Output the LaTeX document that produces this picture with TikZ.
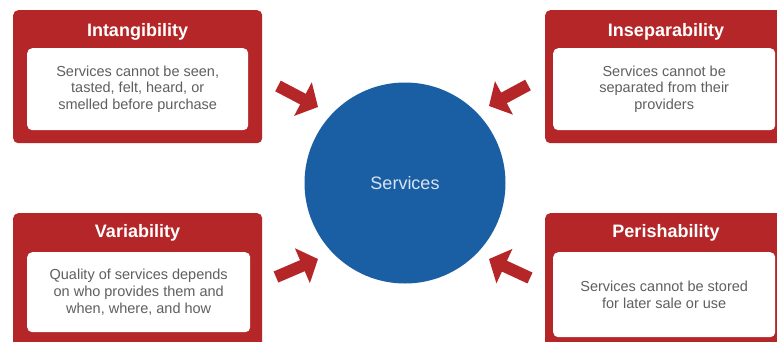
\documentclass[tikz,border=0pt]{standalone}
\usepackage{fontspec}
\setmainfont{Liberation Sans}
\usetikzlibrary{arrows.meta}
\usepackage{xcolor}
\definecolor{boxred}{RGB}{180,38,40}
\definecolor{svcblue}{RGB}{26,94,163}
\definecolor{svctext}{RGB}{215,228,243}
\definecolor{bodygray}{RGB}{95,95,95}

\begin{document}
\begin{tikzpicture}[
        x=1pt, y=-1pt,
        outerbox/.style={fill=boxred, rounded corners=5pt, inner sep=0pt, anchor=north west},
        innerbox/.style={fill=white, rounded corners=5pt, inner sep=0pt, anchor=north west,
            align=center, text=bodygray, font=\fontsize{14.5}{16.6}\selectfont},
        titletext/.style={text=white, font=\fontsize{18}{20}\selectfont\bfseries},
        bigarrow/.style={boxred, line width=12pt, -{Triangle[width=37pt, length=17pt]}}
    ]

    % Rahmen
    \useasboundingbox (0,0) rectangle (777,341);
    \fill[white] (0,0) rectangle (777,341);

    % Kreis in der Mitte
    \node[circle, fill=svcblue, minimum size=201pt, inner sep=0pt,
          text=svctext, font=\fontsize{18}{20}\selectfont] (svc) at (405,183) {Services};

    % Oben links
    \node[outerbox, minimum width=249pt, minimum height=133pt] (intbox) at (13,10) {};
    \node[innerbox, minimum width=221pt, minimum height=82pt] (intbody) at (27,48)
        {Services cannot be seen,\\ tasted, felt, heard, or\\ smelled before purchase};
    \node[titletext] (inttitle) at (137.5,32) {Intangibility};

    % Oben rechts
    \node[outerbox, minimum width=240pt, minimum height=133pt] (insbox) at (545,10) {};
    \node[innerbox, minimum width=222pt, minimum height=82pt] (insbody) at (553,48)
        {Services cannot be\\ separated from their\\ providers};
    \node[titletext] (institle) at (666,32) {Inseparability};

    % Unten links
    \node[outerbox, minimum width=249pt, minimum height=140pt] (varbox) at (13,213) {};
    \node[innerbox, minimum width=223pt, minimum height=80pt] (varbody) at (27,252)
        {Quality of services depends\\ on who provides them and\\ when, where, and how};
    \node[titletext] (vartitle) at (137.5,233) {Variability};

    % Unten rechts
    \node[outerbox, minimum width=240pt, minimum height=140pt] (perbox) at (545,213) {};
    \node[innerbox, minimum width=222pt, minimum height=85pt] (perbody) at (553,252)
        {Services cannot be stored\\ for later sale or use};
    \node[titletext] (pertitle) at (666,233) {Perishability};

    % Pfeile
    \coordinate (intfrom) at (278,86);
    \coordinate (intto)   at (318,107);
    \coordinate (insfrom) at (528,85);
    \coordinate (insto)   at (489,106);
    \coordinate (varfrom) at (276,277);
    \coordinate (varto)   at (318,259);
    \coordinate (perfrom) at (530,278);
    \coordinate (perto)   at (489,259);
    \draw[bigarrow] (intfrom) -- (intto);
    \draw[bigarrow] (insfrom) -- (insto);
    \draw[bigarrow] (varfrom) -- (varto);
    \draw[bigarrow] (perfrom) -- (perto);

\end{tikzpicture}
\end{document}
